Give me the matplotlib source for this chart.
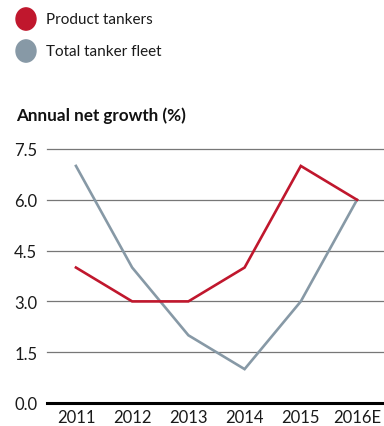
import matplotlib.pyplot as plt
from matplotlib.patches import Circle

# annual net growth, percent
anni = ['2011', '2012', '2013', '2014', '2015', '2016E']
product_tankers = [4.0, 3.0, 3.0, 4.0, 7.0, 6.0]
total_fleet = [7.0, 4.0, 2.0, 1.0, 3.0, 6.0]
yticks = [0.0, 1.5, 3.0, 4.5, 6.0, 7.5]

rosso = '#c0172d'
grigio = '#8799a6'

plt.rcParams['font.family'] = ['Lato', 'DejaVu Sans']

fig = plt.figure(figsize=(3.84, 4.27), dpi=100)
ax = fig.add_axes([47/384, 1 - 404/427, 1 - 47/384, (404 - 150)/427])

x = list(range(len(anni)))
ax.plot(x, total_fleet, color=grigio, lw=1.9, solid_joinstyle='miter', zorder=3)
ax.plot(x, product_tankers, color=rosso, lw=1.9, solid_joinstyle='miter', zorder=4)

ax.set_xlim(-0.515, 5.48)
ax.set_ylim(0, 7.5)
ax.set_yticks(yticks)
ax.set_yticklabels(['%.1f' % v for v in yticks])
ax.set_xticks(x)
ax.set_xticklabels(anni)
for v in yticks[1:]:
    ax.axhline(v, color='#777777', lw=0.9, zorder=1, clip_on=False)
ax.axhline(0, color='black', lw=2.2, zorder=5, clip_on=False)

for s in ax.spines.values():
    s.set_visible(False)
ax.tick_params(length=0, labelsize=12, colors='#1a1a1a')
ax.tick_params(axis='y', pad=7)
ax.tick_params(axis='x', pad=4)
for lbl in ax.get_yticklabels():
    lbl.set_ha('right')

# legenda a mano
for i, (col, nome) in enumerate([(rosso, 'Product tankers'), (grigio, 'Total tanker fleet')]):
    cy = 1 - (20 + 32*i)/427
    fig.patches.append(Circle((26/384, cy), 10/384, color=col, transform=fig.transFigure,
                              figure=fig))
    fig.text(46/384, cy, nome, fontsize=11, va='center', ha='left', color='#1a1a1a')

fig.text(16/384, 1 - 116/427, 'Annual net growth (%)', fontsize=12.3, fontweight='bold',
         va='center', ha='left', color='#111111')

fig.savefig('out.png', dpi=100)
